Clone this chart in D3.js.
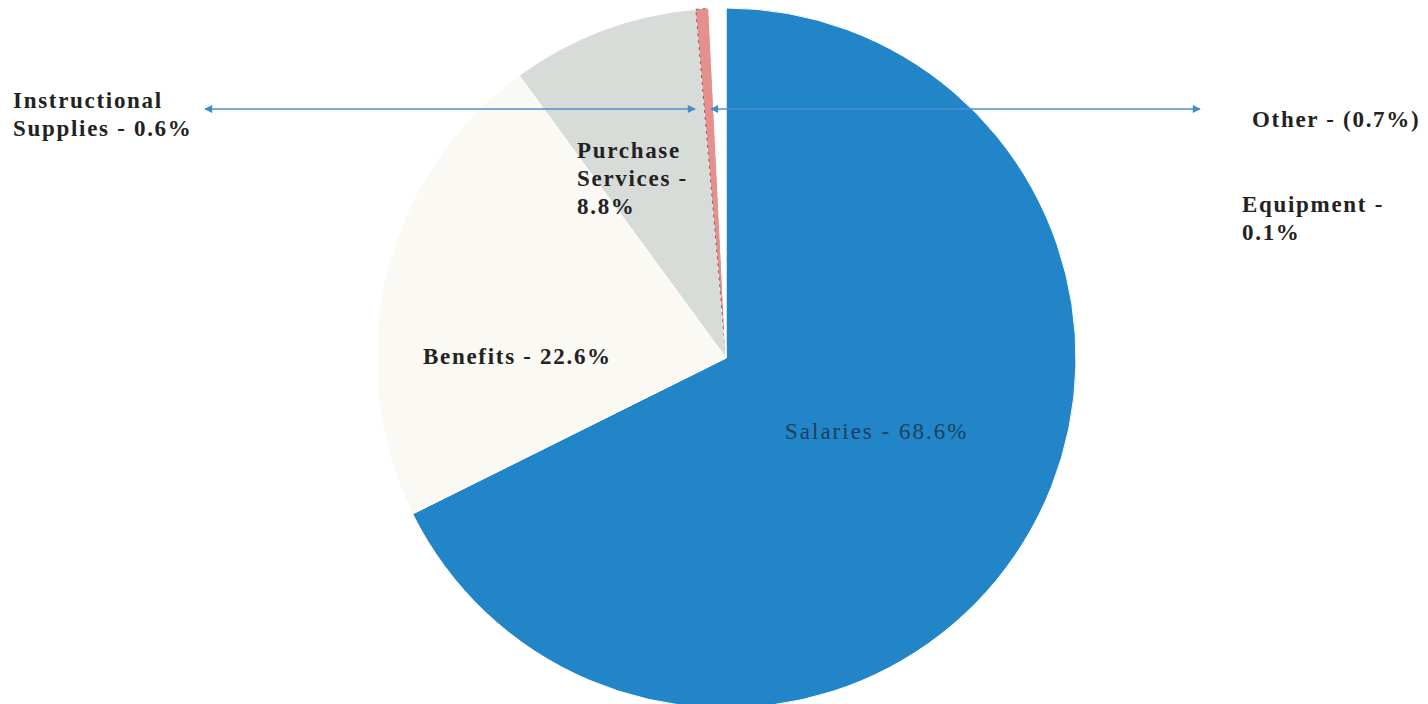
<!DOCTYPE html>
<html>
<head>
<meta charset="utf-8">
<script src="https://cdn.jsdelivr.net/npm/d3@7"></script>
<style>
body { margin: 0; background: #ffffff; }
svg { display: block; }
.label { font-family: "Liberation Serif", "Times New Roman", serif; font-weight: bold; fill: #222; }
</style>
</head>
<body>
<svg></svg>
<script>
"use strict";

var svg_width = 1428;
var svg_height = 704;

// slices, clockwise from 12 o'clock
var categories = ["Salaries", "Benefits", "Purchase Services", "Instructional Supplies", "Equipment", "Other"];
var percents = [68.6, 22.6, 8.8, 0.6, 0.1, -0.7];
var colors = ["#2185c7", "#fbf9f3", "#d8dcd9", "#e6908e", "#ffffff", "#ffffff"];

// label lines for each slice
var labelLines = [
    ["Salaries - 68.6%"],
    ["Benefits - 22.6%"],
    ["Purchase", "Services -", "8.8%"],
    ["Instructional", "Supplies - 0.6%"],
    ["Equipment -", "0.1%"],
    ["Other - (0.7%)"]
];

var cx = 726;
var cy = 358;
var radius = 350;

var svg = d3.select("svg")
    .attr("width", svg_width)
    .attr("height", svg_height);

var pie = d3.pie()
    .sort(null)
    .value(function(d) {return Math.abs(d);});

var arc = d3.arc()
    .innerRadius(0)
    .outerRadius(radius);

var slices = pie(percents);

var g = svg.append("g")
    .attr("transform", "translate(" + cx + "," + cy + ")");

g.selectAll(".slice")
    .data(slices)
    .enter()
    .append("path")
    .attr("class", "slice")
    .attr("d", arc)
    .attr("fill", function(d, i) {return colors[i];})
    .attr("stroke", function(d, i) {return i == 3 ? "#5a4a4a" : "#ffffff";})
    .attr("stroke-width", function(d, i) {return i == 3 ? 0.8 : 1;})
    .attr("stroke-dasharray", function(d, i) {return i == 3 ? "3,4" : null;});

// arrows pointing at the small slices
var defs = svg.append("defs");
defs.append("marker")
    .attr("id", "head")
    .attr("viewBox", "0 0 10 10")
    .attr("refX", 9)
    .attr("refY", 5)
    .attr("markerWidth", 7)
    .attr("markerHeight", 5)
    .attr("orient", "auto-start-reverse")
    .append("path")
    .attr("d", "M0,0 L10,5 L0,10 z")
    .attr("fill", "#3d8ccc");

var arrowY = 109;
var arrowSpans = [[205, 695], [711, 1200]];
svg.selectAll(".arrow")
    .data(arrowSpans)
    .enter()
    .append("line")
    .attr("class", "arrow")
    .attr("x1", function(d) {return d[0];})
    .attr("x2", function(d) {return d[1];})
    .attr("y1", arrowY)
    .attr("y2", arrowY)
    .attr("stroke", "#4a92cc")
    .attr("stroke-width", 1.6)
    .attr("marker-start", "url(#head)")
    .attr("marker-end", "url(#head)");

// label anchors (left x, first baseline)
var labelPos = [[785, 439], [423, 364], [577, 158], [13, 108], [1242, 212], [1252, 127]];
var lineHeight = 28;

var labels = svg.selectAll(".label")
    .data(slices)
    .enter()
    .append("text")
    .attr("class", "label")
    .attr("x", function(d, i) {return labelPos[i][0];})
    .attr("y", function(d, i) {return labelPos[i][1];})
    .style("font-size", "23px")
    .style("font-weight", function(d, i) {return i == 0 ? "normal" : "bold";})
    .style("fill", function(d, i) {return i == 0 ? "#1d3f63" : "#222";})
    .style("letter-spacing", function(d, i) {return i == 0 ? "2px" : "1.7px";});

labels.selectAll("tspan")
    .data(function(d, i) {return labelLines[i].map(function(t) {return {text: t, x: labelPos[i][0]};});})
    .enter()
    .append("tspan")
    .attr("x", function(d) {return d.x;})
    .attr("dy", function(d, j) {return j == 0 ? 0 : lineHeight;})
    .text(function(d) {return d.text;});
</script>
</body>
</html>
